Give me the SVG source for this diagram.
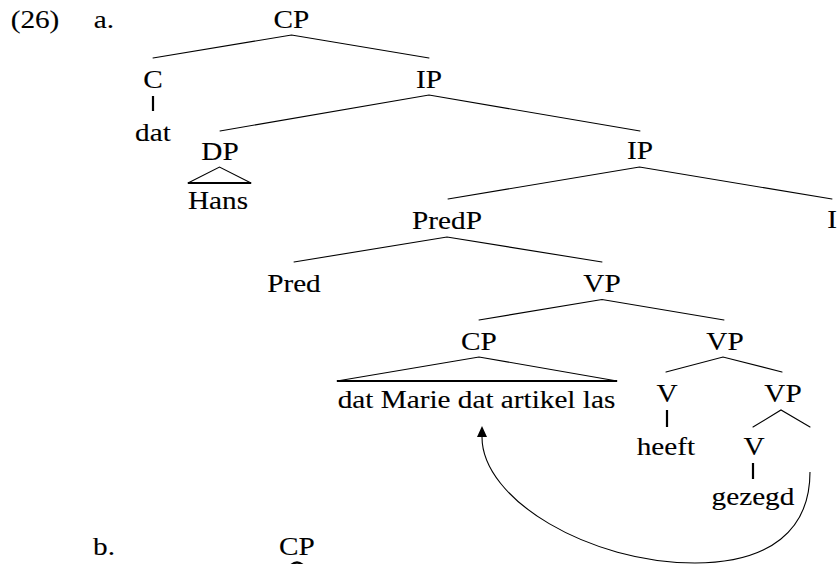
<svg xmlns="http://www.w3.org/2000/svg" width="839" height="564" viewBox="0 0 839 564">
  <defs>
    <style>
      text {
        font-family: "Liberation Serif", "Times New Roman", serif;
        font-size: 25px;
        fill: #000;
        stroke: #000;
        stroke-width: 0.12;
        text-anchor: middle;
        transform-box: fill-box;
        transform-origin: 50% 50%;
        transform: scaleX(1.17);
      }
      .edge { stroke: #000; stroke-width: 1.1; fill: none; stroke-linecap: round; }
      .bar { stroke: #000; stroke-width: 2.2; fill: none; }
      .move { stroke: #000; stroke-width: 1.1; fill: none; }
    </style>
    <marker id="arrowhead" markerUnits="userSpaceOnUse" viewBox="0 0 11 10" refX="0" refY="5" markerWidth="11" markerHeight="10" orient="auto">
      <path d="M0,0 L11,5 L0,10 Z" fill="#000"/>
    </marker>
  </defs>
  <rect width="839" height="564" fill="#fff"/>

  <!-- example labels -->
  <g id="labels">
    <text x="35" y="28">(26)</text>
    <text x="104" y="28">a.</text>
    <text x="104" y="555">b.</text>
  </g>

  <!-- tree branches -->
  <g id="connectors">
    <path class="edge" d="M153,58 L291.5,35 L429,58"/>
    <path class="bar" d="M153,96 V111"/>
    <path class="edge" d="M220,131 L429,95 L640,131"/>
    <path class="edge" d="M188,183 L219.5,167 L251,183"/>
    <path class="bar" d="M188,183 H251"/>
    <path class="edge" d="M448,199 L639.5,167 L832,199"/>
    <path class="edge" d="M294,262 L447,237 L602,262"/>
    <path class="edge" d="M479,320 L602,299.5 L724,320"/>
    <path class="edge" d="M337,381 L479,357 L617,381"/>
    <path class="bar" d="M337,381 H617"/>
    <path class="edge" d="M666,372 L723,357 L782,372"/>
    <path class="bar" d="M667,410 V427"/>
    <path class="edge" d="M753,427 L781,410 L810,427"/>
    <path class="bar" d="M753,463 V479"/>
    <!-- movement arrow from the lower VP back to the CP -->
    <path class="move" d="M810,472 C810,530 770,563 695,563 C590,563 482,500 482,437" marker-end="url(#arrowhead)"/>
    <!-- top of the tree in (b), cut off at the edge -->
    <path class="bar" d="M290,566 Q297,559 304,566"/>
  </g>

  <!-- nodes -->
  <g id="n-cp-top"><text x="291.5" y="28">CP</text></g>
  <g id="n-c"><text x="153" y="88">C</text></g>
  <g id="n-dat"><text x="153" y="141">dat</text></g>
  <g id="n-ip1"><text x="429" y="88">IP</text></g>
  <g id="n-dp"><text x="220" y="160">DP</text></g>
  <g id="n-hans"><text x="218" y="209">Hans</text></g>
  <g id="n-ip2"><text x="640" y="159">IP</text></g>
  <g id="n-predp"><text x="447" y="229">PredP</text></g>
  <g id="n-i"><text x="832" y="228">I</text></g>
  <g id="n-pred"><text x="294" y="292">Pred</text></g>
  <g id="n-vp1"><text x="602" y="292">VP</text></g>
  <g id="n-cp2"><text x="479" y="350">CP</text></g>
  <g id="n-clause"><text x="476.5" y="408">dat Marie dat artikel las</text></g>
  <g id="n-vp2"><text x="725" y="350">VP</text></g>
  <g id="n-v1"><text x="667" y="402">V</text></g>
  <g id="n-heeft"><text x="666" y="455">heeft</text></g>
  <g id="n-vp3"><text x="783" y="402">VP</text></g>
  <g id="n-v2"><text x="754" y="455">V</text></g>
  <g id="n-gezegd"><text x="753" y="505">gezegd</text></g>
  <g id="n-cp-b"><text x="297" y="555">CP</text></g>
</svg>
